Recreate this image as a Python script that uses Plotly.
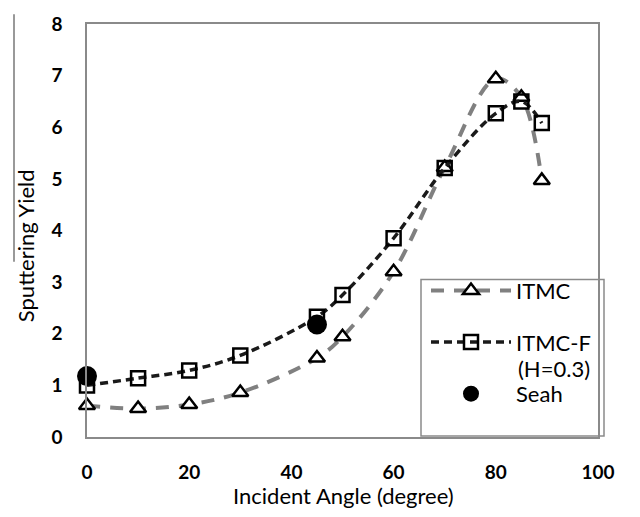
import plotly.graph_objects as go

# ---- data ----
angle_itmc = [0, 10, 20, 30, 45, 50, 60, 70, 80, 85, 89]
yield_itmc = [0.61, 0.55, 0.63, 0.86, 1.53, 1.94, 3.2, 5.22, 6.94, 6.58, 4.97]

angle_itmcf = [0, 10, 20, 30, 45, 50, 60, 70, 80, 85, 89]
yield_itmcf = [1.0, 1.14, 1.29, 1.58, 2.33, 2.75, 3.85, 5.21, 6.27, 6.5, 6.08]

angle_seah = [0, 45]
yield_seah = [1.18, 2.18]

x_ticks = [0, 20, 40, 60, 80, 100]
y_ticks = [0, 1, 2, 3, 4, 5, 6, 7, 8]

FONT = "Lato"
AX = "#8a8a8a"

fig = go.Figure()
fig.add_trace(go.Scatter(
    x=angle_itmc, y=yield_itmc, name="ITMC", mode="lines+markers", legendgroup="a",
    line=dict(color="#808080", width=4, dash="13px,10px", shape="spline", smoothing=1),
    marker=dict(symbol="triangle-up", size=14, color="white", line=dict(width=2.5, color="black")),
    cliponaxis=False,
))
fig.add_trace(go.Scatter(
    x=angle_itmcf, y=yield_itmcf, name="ITMC-F", mode="lines+markers", legendgroup="b",
    line=dict(color="#1a1a1a", width=3.5, dash="8px,5px", shape="spline", smoothing=1),
    marker=dict(symbol="square-open", size=14, color="black", line=dict(width=2.5, color="black")),
    cliponaxis=False,
))
fig.add_trace(go.Scatter(
    x=angle_seah, y=yield_seah, name="Seah", mode="markers", legendgroup="c",
    marker=dict(symbol="circle", size=20, color="black"),
    cliponaxis=False,
))

L, R, T, B = 87, 42, 15, 80
W, H = 640, 517
pw, ph = W - L - R, H - T - B

def px_x(p):
    return (p - L) / pw

def px_y(p):
    return (H - B - p) / ph

fig.update_layout(
    width=W, height=H,
    margin=dict(l=L, r=R, t=T, b=B),
    paper_bgcolor="white", plot_bgcolor="white",
    font=dict(family=FONT, color="black"),
    showlegend=True,
    legend=dict(
        x=px_x(426), y=px_y(266), xanchor="left", yanchor="top",
        bgcolor="rgba(0,0,0,0)", borderwidth=0,
        font=dict(family=FONT, size=22, color="black"),
        valign="middle", itemwidth=80, traceorder="grouped", tracegroupgap=20,
    ),
    xaxis=dict(
        range=[0, 100], tickvals=x_ticks, ticktext=[str(v) for v in x_ticks],
        showgrid=False, zeroline=False, showline=True, mirror=True,
        linecolor=AX, linewidth=1.5, ticks="",
        tickfont=dict(family=FONT, size=19, color="black", weight="bold"),
        ticklabelstandoff=17,
    ),
    yaxis=dict(
        range=[0, 8], tickvals=y_ticks, ticktext=[str(v) for v in y_ticks],
        showgrid=False, zeroline=False, showline=True, mirror=True,
        linecolor=AX, linewidth=1.5, ticks="",
        tickfont=dict(family=FONT, size=19, color="black", weight="bold"),
        ticklabelstandoff=19,
    ),
    shapes=[
        dict(type="rect", xref="paper", yref="paper",
             x0=px_x(421), x1=px_x(604), y0=px_y(436), y1=px_y(276),
             line=dict(color=AX, width=1.5), fillcolor="rgba(0,0,0,0)", layer="below"),
        dict(type="line", xref="paper", yref="paper",
             x0=px_x(14), x1=px_x(14), y0=px_y(5), y1=px_y(258),
             line=dict(color="#555555", width=1.2)),
    ],
    annotations=[
        dict(text="(H=0.3)", xref="paper", yref="paper",
             x=px_x(516), y=px_y(367), xanchor="left", yanchor="middle",
             showarrow=False, font=dict(family=FONT, size=22, color="black")),
        dict(text="Incident Angle (degree)", xref="paper", yref="paper",
             x=px_x(343), y=px_y(497), xanchor="center", yanchor="middle",
             showarrow=False, font=dict(family=FONT, size=22, color="black")),
        dict(text="Sputtering Yield", xref="paper", yref="paper",
             x=px_x(25), y=px_y(242), xanchor="center", yanchor="middle",
             textangle=-90, showarrow=False, font=dict(family=FONT, size=22, color="black")),
    ],
)

fig.write_html("out.html")
